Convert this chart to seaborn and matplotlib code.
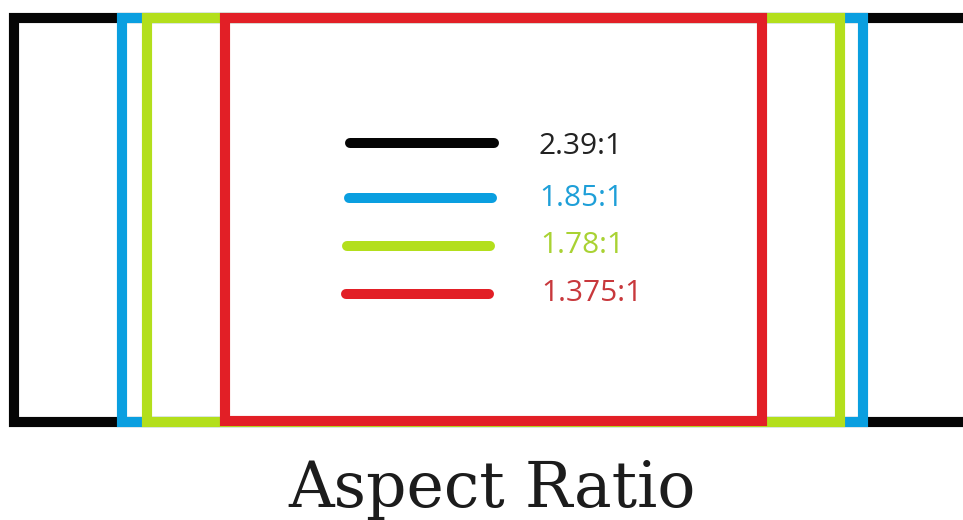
import matplotlib.pyplot as plt
import seaborn as sns
import pandas as pd
from matplotlib.patches import Rectangle

# ==== data (pixel-space layout) ====
ratios = ["2.39:1", "1.85:1", "1.78:1", "1.375:1"]
line_colors = ["#050505", "#0a9fe0", "#b3df1c", "#e21f26"]
text_colors = ["#222222", "#1e9fd8", "#a9d233", "#c8383c"]
frame_left = [14, 122, 147, 225]
frame_right = [975, 863, 840, 762]
frame_top = [17.5, 17.5, 17.5, 17.5]
frame_bottom = [422, 422, 422, 420.5]
key_x0 = [350, 349, 347, 346]
key_x1 = [494, 492, 490, 489]
key_y = [143, 198, 246, 294]
label_x = [538, 539, 540, 541]
label_y = [154, 206, 253, 301]

sns.set_theme(style="white")
fig = plt.figure(figsize=(9.63, 5.20), dpi=100)
ax = fig.add_axes([0, 0, 1, 1])
ax.set_xlim(0, 963)
ax.set_ylim(520, 0)
ax.axis("off")

# ==== frames, widest first so narrower ones sit on top ====
for i in range(len(ratios)):
    l, r, t, b = frame_left[i], frame_right[i], frame_top[i], frame_bottom[i]
    if i == 0:
        # widest frame runs off the right edge, so draw it as an open "C"
        ax.plot([r, l, l, r], [t, t, b, b], color=line_colors[i], linewidth=7.3,
                solid_joinstyle="miter", solid_capstyle="butt", zorder=2)
    else:
        ax.add_patch(Rectangle((l, t), r - l, b - t, fill=False,
                               edgecolor=line_colors[i], linewidth=7.3,
                               joinstyle="miter", zorder=2 + i))

# ==== legend strokes ====
keys = pd.DataFrame({
    "x": key_x0 + key_x1,
    "y": key_y + key_y,
    "ratio": ratios + ratios,
})
sns.lineplot(data=keys, x="x", y="y", hue="ratio", palette=dict(zip(ratios, line_colors)),
             linewidth=7.2, solid_capstyle="round", legend=False, ax=ax, zorder=10)

for i, r in enumerate(ratios):
    ax.text(label_x[i], label_y[i], r, color=text_colors[i], fontsize=21.5,
            family="Open Sans", va="baseline", ha="left", zorder=11)

ax.text(492, 507, "Aspect Ratio", fontsize=45.5, family="DejaVu Serif",
        color="#1c1c1c", ha="center", va="baseline")

fig.savefig("out.png", dpi=100)
